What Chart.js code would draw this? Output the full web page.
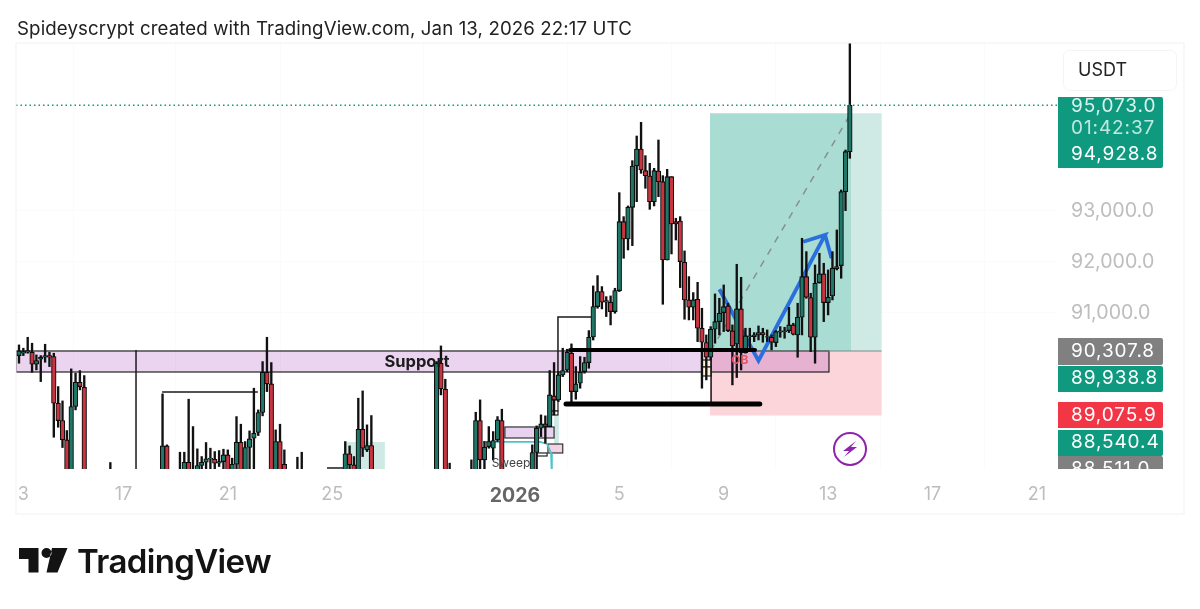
<!DOCTYPE html>
<html><head><meta charset="utf-8">
<style>
html,body{margin:0;padding:0;background:#fff;width:1200px;height:609px;overflow:hidden}
#wrap{position:relative;width:1200px;height:609px}
#c{position:absolute;left:0;top:0}
#hdr{position:absolute;left:17px;top:17px;font:400 18.7px/24px Inter,sans-serif;color:#222;white-space:nowrap;letter-spacing:.1px}
#logo{position:absolute;left:19px;top:548px}
#brand{position:absolute;left:77px;top:541px;font:600 33px/40px Inter,sans-serif;color:#131313;letter-spacing:-.65px;white-space:nowrap}
</style></head><body>
<div id="wrap">
<canvas id="c" width="1200" height="609"></canvas>
<div id="hdr">Spideyscrypt created with TradingView.com, Jan 13, 2026 22:17 UTC</div>
<svg id="logo" width="50" height="26" viewBox="0 0 50 26"><path d="M0 0H19.5V24.5H9.5V11H0Z M27.5 10a5 5 0 1 0 0-10a5 5 0 0 0 0 10Z M33 0H48.5L38.5 24.5H27.5Z" fill="#131313"/></svg>
<div id="brand">TradingView</div>
</div>
<script src="https://cdn.jsdelivr.net/npm/chart.js@4/dist/chart.umd.min.js"></script>
<script>
const opens=[90165,90211,90230,90230,89995,90093,90132,90165,90145,89231,
88891,88512,87700,89166,89642,89544,87500,87300,87450,87600,
87500,87400,87650,87550,87400,87250,87100,86950,87200,87350,
87200,87050,87150,87600,88394,87600,87500,87600,87700,88074,
87700,87800,88009,88074,88133,88133,88055,88087,88218,87800,
88035,88466,87700,88362,88545,88656,89048,89838,89610,87700,
88479,88035,87800,87650,87500,87600,87700,87550,87450,87350,
87500,87600,87700,87750,87650,87800,88238,88022,87700,88721,
88316,88401,87700,87500,87350,87200,87300,87150,87250,87350,
87400,87300,87450,87500,87600,87550,87700,90015,89505,87700,
87500,87400,87300,87500,87600,87700,88891,88120,88381,88349,
88512,88891,87700,87550,87500,87450,87600,87650,87700,88264,
88741,88826,88773,89375,89296,89786,89884,90211,89459,89623,
89851,90028,90530,91126,91420,91243,91210,91027,91439,92791,
92452,93072,93889,94216,93791,93686,93183,93784,93575,92040,
93673,92791,92804,91994,91256,91112,91269,90701,90420,90132,
90681,90831,91008,91139,90648,90394,91080,90224,90537,90537,
90570,90616,90524,90524,90420,90622,90635,90655,90766,90570,
90916,91713,91302,90524,91596,91766,91204,91335,91870,91929,
93379,94163];
const closes=[90256,90243,90263,89995,90067,90132,90165,90132,89231,88891,
88512,87700,89166,89642,89557,87600,87300,87450,87600,87500,
87400,87650,87550,87400,87250,87100,86950,87200,87350,87200,
87050,87150,87400,88394,87600,87500,87600,87700,88074,87700,
87800,88009,88074,88140,88153,88055,88087,88218,87800,88035,
88466,87700,88362,88532,88643,89048,89838,89610,87700,88479,
87700,87800,87650,87500,87600,87700,87550,87450,87350,87500,
87600,87700,87750,87650,87800,88238,88022,87800,88721,88349,
88401,87700,87500,87350,87200,87300,87150,87250,87350,87400,
87300,87450,87500,87600,87550,87700,90015,89512,87700,87500,
87400,87300,87500,87600,87700,88891,88120,88368,88479,88499,
88904,87700,87550,87500,87450,87600,87650,87700,88264,88741,
88826,88773,89394,89296,89786,89871,90230,89459,89610,89838,
90028,90524,91126,91420,91210,91210,91027,91439,92791,92452,
93072,93882,94216,93804,93693,93183,93791,93575,92040,93673,
92746,92746,92007,91256,91112,91256,90701,90426,90132,90681,
90831,90995,91125,90655,90354,91080,90224,90551,90551,90570,
90616,90570,90537,90426,90635,90648,90648,90766,90583,90916,
91713,91308,90524,91583,91766,91204,91308,91877,91909,93379,
94163,95073];
const highs=[90374,90309,90524,90407,90178,90165,90387,90230,90211,89557,
89276,88695,89904,89819,89871,89773,87700,87600,87800,87850,
87750,88068,87850,87800,87650,87500,87400,87300,87500,87600,
87450,87300,87500,89414,88414,87800,87700,88270,88270,89309,
88773,88336,88185,88460,88349,88283,88303,88329,88316,88153,
88969,88819,88479,88688,89525,89100,90047,90524,90028,88708,
88819,88316,87900,87850,88172,88270,87900,87800,87700,87650,
87800,87850,87900,87920,87880,88479,88394,88185,89329,89472,
88806,88989,87880,87750,87600,87500,87550,87400,87500,87600,
87650,87550,87700,87750,87850,87800,90047,90354,89701,88055,
87750,87650,87600,87750,88120,89054,89296,88479,88773,88675,
88969,89113,87900,87800,87750,87700,87850,87900,88414,88786,
89002,88983,89871,90028,89851,90309,90289,90394,89949,90145,
90132,90655,91531,91733,91518,91321,91335,91485,93360,92889,
93099,93987,94470,94738,94085,93935,93837,94392,93693,93817,
93673,92857,92889,92217,91713,91400,91602,91093,90570,90733,
91374,91289,91550,91191,90766,91955,91700,90701,90701,90616,
90746,90701,90668,90570,90655,90733,90720,91112,90799,91191,
92465,92203,91387,91942,92171,91975,91844,92203,92628,93412,
94196,96400];
const lows=[90015,90165,90211,89838,89884,89655,90034,89949,88564,88760,
88362,87500,87400,89100,89492,87400,87200,87000,87200,87400,
87300,87200,87450,87300,87100,86900,86800,86700,87000,87100,
86950,86800,86950,87400,87400,87300,87250,87400,87500,87500,
87500,87600,87700,87600,87800,87800,87990,87800,87700,87700,
87600,87500,87500,87700,87600,88597,88983,89459,87500,87500,
87500,87600,87500,87400,87300,87400,87450,87300,87250,87200,
87300,87400,87500,87550,87450,87700,87900,87700,87500,88185,
88283,87500,87400,87250,87100,87000,87100,86950,87050,87150,
87200,87100,87250,87300,87400,87350,87500,89394,87500,87400,
87250,87150,87100,87300,87400,87500,87700,87800,88349,88120,
88479,87500,87450,87350,87300,87250,87400,87450,87500,87800,
88577,88447,88773,89002,89263,89753,89851,89231,89309,89525,
89819,89917,90470,91093,91080,90930,90766,90995,91420,92073,
92236,92321,93183,93739,93445,93033,93099,93281,91171,92040,
92158,92432,91498,90877,90864,90864,90439,89525,89688,90080,
90407,90570,90635,90635,89590,89734,89884,90211,90276,90439,
90472,90426,90439,90276,90341,90524,90505,90616,90570,90132,
90570,91289,90243,90015,91583,90831,90962,91256,91844,91681,
93007,94033];

const priceTicks=[91000,92000,93000];
const dayTicks=[1,24,48,72,114,138,162,186,210,234];
const dayLabels=['3','17','21','25','2026','5','9','13','17','21'];
const lastPrice=95073, targetPrice=94916, entryPrice=90255, stopPrice=88990;
const supportTop=90255, supportBottom=89843;

const xMin=-0.69,xMax=238.85,yMin=87941,yMax=96294;
const GREEN='#1f7767',RED='#c8343f',TAG_G='#0f9a80';

const zones=[
 {x0:158.85,x1:191.26,y0:targetPrice,y1:entryPrice,fill:'#a9dcd3'},
 {x0:191.26,x1:198.3,y0:targetPrice,y1:entryPrice,fill:'#cfe9e4'},
 {x0:158.85,x1:198.3,y0:entryPrice,y1:stopPrice,fill:'#fbd5da'},
 {x0:75.2,x1:84.1,y0:88471,y1:87800,fill:'#cfe9e4'},
 {x0:123,x1:124.1,y0:89000,y1:88431,fill:'#cfe9e4'},
 {x0:-0.69,x1:186.2,y0:supportTop,y1:supportBottom,fill:'rgba(156,39,176,.2)',stroke:'#222'},
 {x0:111.7,x1:123,y0:88765,y1:88549,fill:'#e8d2f0',stroke:'#333'},
 {x0:121.6,x1:125,y0:88431,y1:88255,fill:'#f2d3e6',stroke:'#333'},
 {x0:119.1,x1:121.4,y0:88255,y1:88196,fill:'#fff',stroke:'#222'},
 {x0:122.5,x1:123.9,y0:89294,y1:89078,fill:'#fff',stroke:'#222'},
 {x0:122.5,x1:123.9,y0:89078,y1:89000,fill:'#fff',stroke:'#222'},
 {x0:157,x1:159.1,y0:90078,y1:89941,fill:'#fbf3d8',stroke:'#222'},
 {x0:157,x1:159.1,y0:89941,y1:89765,fill:'#fbf3d8',stroke:'#222'}
];

const bluePath=[{x:161,y:91465},{x:170,y:90065},{x:185.3,y:92529},{x:180.3,y:92398}];
const blueTail=[{x:185.3,y:92529},{x:186.8,y:92073}];
const dashedPath=[{x:159,y:90255},{x:191.26,y:94916}];
const lastLine=[{x:xMin,y:lastPrice},{x:xMax,y:lastPrice}];
const entryLine=[{x:158.85,y:entryPrice},{x:198.3,y:entryPrice}];
const thickUpper=[{x:126.7,y:90275},{x:169.2,y:90275}];
const thickLower=[{x:125.75,y:89216},{x:170.3,y:89216}];
const thinLines=[
 [{x:159.1,y:90275},{x:159.1,y:89216}],
 [{x:26.9,y:90275},{x:26.9,y:87800}],
 [{x:32.9,y:89451},{x:54.9,y:89451}],
 [{x:123.9,y:89353},{x:123.9,y:90922},{x:131.7,y:90922}],
 [{x:70.8,y:87961},{x:74.5,y:87961}]
];
const sweepCurve=[{x:106.7,y:88471},{x:119.8,y:88471},{x:121.4,y:88431},{x:122.3,y:88255},{x:122.5,y:87800}];

const idx=opens.map((_,i)=>i);
const lineDS=(data,color,width,order,extra={})=>Object.assign({type:'line',data,borderColor:color,borderWidth:width,pointRadius:0,order,fill:false,tension:0},extra);

const annotations={id:'annotations',
 beforeDatasetsDraw(ch){
  const {ctx,chartArea:a,scales:{x,y}}=ch;
  ctx.save();ctx.beginPath();ctx.rect(a.left,a.top,a.width,a.height);ctx.clip();
  zones.forEach(z=>{
   const X=x.getPixelForValue(z.x0),Y=y.getPixelForValue(z.y0),W=x.getPixelForValue(z.x1)-X,H=y.getPixelForValue(z.y1)-Y;
   ctx.fillStyle=z.fill;ctx.fillRect(X,Y,W,H);
   if(z.stroke){ctx.strokeStyle=z.stroke;ctx.lineWidth=1.2;ctx.strokeRect(X,Y,W,H);}
  });
  ctx.restore();
 },
 afterDatasetsDraw(ch){
  const {ctx,chartArea:a,scales:{x,y}}=ch;
  ctx.save();ctx.beginPath();ctx.rect(a.left,a.top,a.width,a.height);ctx.clip();
  ctx.textAlign='center';ctx.textBaseline='middle';
  ctx.fillStyle='#1c1c1c';ctx.font='700 16.5px Inter,sans-serif';
  ctx.fillText('Support',x.getPixelForValue(91.5),y.getPixelForValue(90039));
  ctx.fillStyle='#444';ctx.font='400 12px Inter,sans-serif';
  ctx.fillText('Sweep',x.getPixelForValue(113.1),y.getPixelForValue(88059));
  ctx.fillStyle='#e2566a';ctx.font='700 12px Inter,sans-serif';
  ctx.fillText('OB',x.getPixelForValue(165.7),y.getPixelForValue(90078));
  // bolt badge
  ctx.strokeStyle='#8e24aa';ctx.lineWidth=2;ctx.beginPath();ctx.arc(850,449,16,0,Math.PI*2);ctx.stroke();
  ctx.fillStyle='#8e24aa';ctx.beginPath();
  [[856,441],[843,451],[849,451],[844,457],[857,447],[851,447]].forEach((p,i)=>i?ctx.lineTo(p[0],p[1]):ctx.moveTo(p[0],p[1]));
  ctx.closePath();ctx.fill();
  ctx.restore();
 },
 afterDraw(ch){
  const {ctx}=ch;
  ctx.save();
  ctx.strokeStyle='#f1f1f1';ctx.lineWidth=1;ctx.strokeRect(16,43,1168,471);
  ctx.strokeStyle='#f4f4f4';ctx.beginPath();ctx.roundRect(1063.5,50.5,113,40,6);ctx.stroke();
  ctx.fillStyle='#222';ctx.font='400 18px Inter,sans-serif';ctx.textBaseline='middle';ctx.textAlign='left';
  ctx.fillText('USDT',1078,71);
  // price tags
  ctx.beginPath();ctx.rect(1058,43,126,426);ctx.clip();
  const rects=[[97,168,TAG_G],[338,365,'#808080'],[366,392,TAG_G],[402,428,'#f23645'],[430,456,TAG_G],[456,482,'#808080']];
  rects.forEach(r=>{ctx.fillStyle=r[2];ctx.beginPath();ctx.roundRect(1058,r[0],105,r[1]-r[0],[0,2,2,0]);ctx.fill();});
  const texts=[['95,073.0',106,'#d8f3ec'],['01:42:37',128,'#bfe9de'],['94,928.8',154,'#fff'],['90,307.8',351,'#fff'],['89,938.8',378,'#fff'],['89,075.9',415,'#fff'],['88,540.4',442,'#fff'],['88,511.0',469,'#fff']];
  ctx.font='400 19px Inter,sans-serif';ctx.letterSpacing='0.9px';
  texts.forEach(t=>{ctx.fillStyle=t[2];ctx.fillText(t[0],1071,t[1]);});
  ctx.restore();
 }
};

new Chart(document.getElementById('c'),{
 type:'bar',
 data:{datasets:[
  lineDS(lastLine,TAG_G,1.4,1,{borderDash:[1.5,3]}),
  lineDS(thickUpper,'#000',4,2,{borderCapStyle:'round'}),
  lineDS(thickLower,'#000',5,2,{borderCapStyle:'round'}),
  {type:'bar',data:idx.map(i=>({x:i,y:[Math.min(opens[i],closes[i]),Math.max(opens[i],closes[i])]})),
   backgroundColor:idx.map(i=>closes[i]>=opens[i]?GREEN:RED),borderColor:'#0c0c0c',borderWidth:1.1,borderSkipped:false,barThickness:4.6,grouped:false,order:3},
  {type:'bar',data:idx.map(i=>({x:i,y:[lows[i],highs[i]]})),backgroundColor:'#111',borderWidth:0,barThickness:1.7,grouped:false,order:4},
  lineDS(bluePath,'#2a6fdb',3.8,5,{borderJoinStyle:'miter'}),
  lineDS(blueTail,'#2a6fdb',3.8,5),
  ...thinLines.map(l=>lineDS(l,'#1a1a1a',1.5,6)),
  lineDS(sweepCurve,'#4fc3c8',1.8,7),
  lineDS(entryLine,'#7d8b88',1.2,8),
  lineDS(dashedPath,'#8a8f8e',1.5,8,{borderDash:[7,7]})
 ]},
 options:{
  responsive:false,animation:false,events:[],
  layout:{padding:{left:16,top:43,right:16,bottom:95}},
  plugins:{legend:{display:false},tooltip:{enabled:false},title:{display:false}},
  scales:{
   x:{type:'linear',min:xMin,max:xMax,offset:false,
    grid:{color:'#fbfbfb',drawTicks:false},border:{display:false},
    afterBuildTicks(s){s.ticks=dayTicks.map(v=>({value:v}));},
    afterFit(s){s.height=45;},
    ticks:{autoSkip:false,maxRotation:0,padding:15,
     callback:(v,i)=>dayLabels[i],
     color:c=>dayLabels[c.index]==='2026'?'#666':'#bdbdbd',
     font:c=>dayLabels[c.index]==='2026'?{family:'Inter',size:19.5,weight:'700'}:{family:'Inter',size:18,weight:'400'}}},
   y:{type:'linear',position:'right',min:yMin,max:yMax,
    grid:{color:'#fbfbfb',drawTicks:false},border:{display:false},
    afterBuildTicks(s){s.ticks=priceTicks.map(v=>({value:v}));},
    afterFit(s){s.width=126;},
    ticks:{padding:13,color:'#bdbdbd',font:{family:'Inter',size:19.6},
     callback:v=>v.toLocaleString('en-US',{minimumFractionDigits:1})}}
  }
 },
 plugins:[annotations]
});
</script>
</body></html>
